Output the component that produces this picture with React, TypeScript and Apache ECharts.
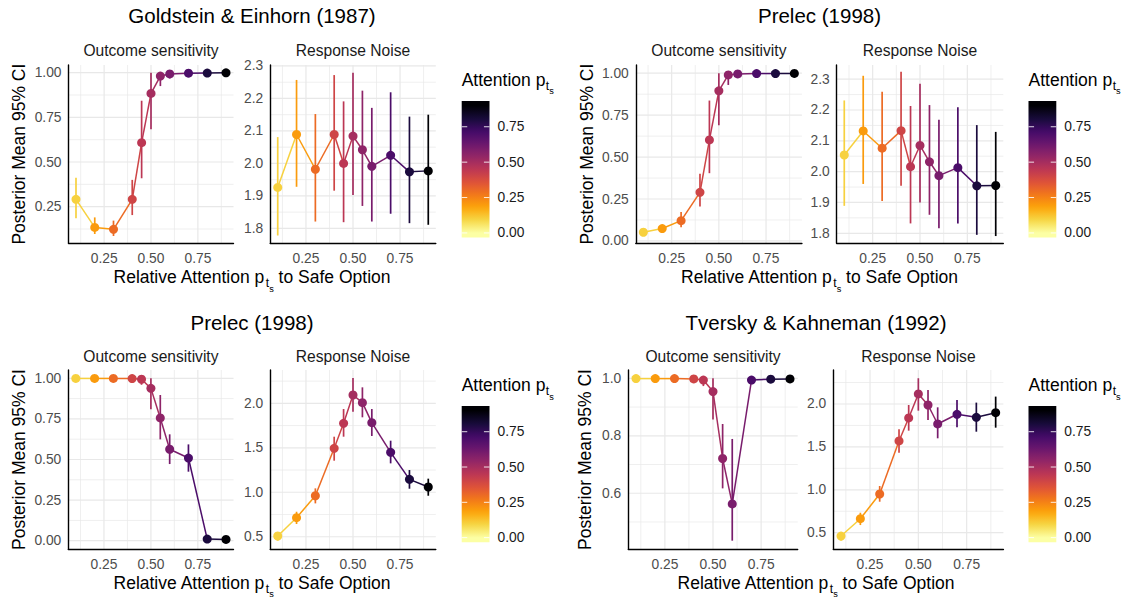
import React, { useEffect, useRef } from "react";
import * as echarts from "echarts";

// ---------- data ----------
const attention = [0.1, 0.2, 0.3, 0.4, 0.45, 0.5, 0.55, 0.6, 0.7, 0.8, 0.9];

// Goldstein & Einhorn (1987)
const geOutcomeMean = [0.291, 0.134, 0.123, 0.291, 0.608, 0.884, 0.981, 0.993, 0.997, 0.998, 0.999];
const geOutcomeLo = [0.185, 0.097, 0.086, 0.203, 0.409, 0.683, 0.925, 0.968, 0.99, 0.993, 0.996];
const geOutcomeHi = [0.412, 0.19, 0.172, 0.4, 0.843, 1.0, 1.0, 1.0, 1.0, 1.0, 1.0];
const geNoiseMean = [1.926, 2.089, 1.982, 2.089, 2.0, 2.084, 2.042, 1.991, 2.025, 1.974, 1.977];
const geNoiseLo = [1.778, 1.928, 1.821, 1.916, 1.819, 1.903, 1.869, 1.821, 1.845, 1.816, 1.811];
const geNoiseHi = [2.081, 2.257, 2.152, 2.272, 2.191, 2.279, 2.224, 2.171, 2.219, 2.144, 2.15];

// Prelec (1998) - top
const prOutcomeMean = [0.052, 0.074, 0.121, 0.29, 0.602, 0.895, 0.99, 0.996, 0.998, 0.998, 0.999];
const prOutcomeLo = [0.038, 0.056, 0.082, 0.205, 0.404, 0.69, 0.93, 0.975, 0.99, 0.99, 0.995];
const prOutcomeHi = [0.066, 0.095, 0.173, 0.4, 0.837, 1.0, 1.0, 1.0, 1.0, 1.0, 1.0];
const prNoiseMean = [2.054, 2.132, 2.076, 2.133, 2.016, 2.085, 2.032, 1.987, 2.013, 1.954, 1.955];
const prNoiseLo = [1.889, 1.96, 1.905, 1.954, 1.832, 1.9, 1.86, 1.816, 1.832, 1.795, 1.791];
const prNoiseHi = [2.231, 2.311, 2.259, 2.324, 2.213, 2.285, 2.216, 2.168, 2.209, 2.151, 2.129];

// Prelec (1998) - bottom
const pr2OutcomeMean = [0.999, 0.999, 0.999, 0.998, 0.994, 0.938, 0.756, 0.563, 0.509, 0.01, 0.008];
const pr2OutcomeLo = [0.99, 0.99, 0.99, 0.985, 0.96, 0.809, 0.624, 0.472, 0.425, 0.002, 0.001];
const pr2OutcomeHi = [1.0, 1.0, 1.0, 1.0, 1.0, 1.0, 0.897, 0.655, 0.593, 0.025, 0.018];
const pr2NoiseMean = [0.508, 0.714, 0.961, 1.494, 1.775, 2.094, 2.008, 1.783, 1.449, 1.145, 1.059];
const pr2NoiseLo = [0.455, 0.643, 0.875, 1.355, 1.625, 1.906, 1.843, 1.633, 1.325, 1.04, 0.961];
const pr2NoiseHi = [0.545, 0.781, 1.044, 1.625, 1.936, 2.285, 2.18, 1.936, 1.58, 1.25, 1.153];

// Tversky & Kahneman (1992)
const tkOutcomeMean = [0.999, 0.999, 0.999, 0.998, 0.994, 0.954, 0.721, 0.563, 0.994, 0.997, 0.998];
const tkOutcomeLo = [0.99, 0.99, 0.99, 0.985, 0.973, 0.857, 0.617, 0.435, 0.98, 0.99, 0.99];
const tkOutcomeHi = [1.0, 1.0, 1.0, 1.0, 1.0, 1.0, 0.841, 0.789, 1.0, 1.0, 1.0];
const tkNoiseMean = [0.461, 0.663, 0.951, 1.569, 1.837, 2.117, 1.988, 1.767, 1.88, 1.845, 1.899];
const tkNoiseLo = [0.405, 0.589, 0.861, 1.433, 1.689, 1.922, 1.813, 1.6, 1.728, 1.677, 1.724];
const tkNoiseHi = [0.5, 0.733, 1.044, 1.705, 1.988, 2.3, 2.163, 1.961, 2.047, 2.016, 2.086];

// ticks
const xMajor = [0.25, 0.5, 0.75];
const xMinor = [0.125, 0.375, 0.625, 0.875];
const probMajor = [0, 0.25, 0.5, 0.75, 1];
const probMinor = [0.125, 0.375, 0.625, 0.875];
const noiseTopMajor = [1.8, 1.9, 2.0, 2.1, 2.2, 2.3];
const noiseTopMinor = [1.75, 1.85, 1.95, 2.05, 2.15, 2.25];
const noiseBottomMajor = [0.5, 1.0, 1.5, 2.0];
const noiseBottomMinor = [0.75, 1.25, 1.75, 2.25];
const tkOutcomeMajor = [0.6, 0.8, 1.0];
const tkOutcomeMinor = [0.5, 0.7, 0.9];
const legendBreaks = [0, 0.25, 0.5, 0.75];

const panelTitles = ["Goldstein & Einhorn (1987)", "Prelec (1998)", "Prelec (1998)", "Tversky & Kahneman (1992)"];
const facetTitles = ["Outcome sensitivity", "Response Noise"];

// ---------- style / layout ----------
const FONT = "'Liberation Sans', Arial, Helvetica, sans-serif";
const INFERNO = ["#000004", "#160B39", "#420A68", "#6A176E", "#932667", "#BC3754", "#DD513A", "#F37819", "#FCA50A", "#F6D746", "#FCFFA4"];
const COLOR_TOP = 0.9;
const CB_MIN = -0.033;
const CB_MAX = 0.932;
const X_MIN = 0.06;
const X_MAX = 0.94;

const panelData = [
  [
    { mean: geOutcomeMean, lo: geOutcomeLo, hi: geOutcomeHi },
    { mean: geNoiseMean, lo: geNoiseLo, hi: geNoiseHi },
  ],
  [
    { mean: prOutcomeMean, lo: prOutcomeLo, hi: prOutcomeHi },
    { mean: prNoiseMean, lo: prNoiseLo, hi: prNoiseHi },
  ],
  [
    { mean: pr2OutcomeMean, lo: pr2OutcomeLo, hi: pr2OutcomeHi },
    { mean: pr2NoiseMean, lo: pr2NoiseLo, hi: pr2NoiseHi },
  ],
  [
    { mean: tkOutcomeMean, lo: tkOutcomeLo, hi: tkOutcomeHi },
    { mean: tkNoiseMean, lo: tkNoiseLo, hi: tkNoiseHi },
  ],
];

const layouts = [
  {
    cx: 252, titleY: 15.5, stripY: 50, xTitleBase: 283.3, yTitleX: 19, legendX: 461.7, legendBase: 86, barTop: 101, barH: 136.6,
    facets: [
      { left: 68.5, top: 65, width: 165, height: 178.3, ymin: 0.045, ymax: 1.043, major: probMajor, minor: probMinor, digits: 2 },
      { left: 270.2, top: 65, width: 165.6, height: 178.3, ymin: 1.754, ymax: 2.303, major: noiseTopMajor, minor: noiseTopMinor, digits: 1 },
    ],
  },
  {
    cx: 819.5, titleY: 15.5, stripY: 50, xTitleBase: 283.3, yTitleX: 586.5, legendX: 1028.5, legendBase: 86, barTop: 101, barH: 136.6,
    facets: [
      { left: 635.8, top: 65, width: 166.1, height: 178.3, ymin: -0.014, ymax: 1.049, major: probMajor, minor: probMinor, digits: 2 },
      { left: 836.7, top: 65, width: 166.6, height: 178.3, ymin: 1.7675, ymax: 2.346, major: noiseTopMajor, minor: noiseTopMinor, digits: 1 },
    ],
  },
  {
    cx: 252, titleY: 322, stripY: 356, xTitleBase: 588.6, yTitleX: 19, legendX: 461.7, legendBase: 391.2, barTop: 406, barH: 136.3,
    facets: [
      { left: 68.3, top: 370, width: 165.2, height: 179, ymin: -0.051, ymax: 1.051, major: probMajor, minor: probMinor, digits: 2 },
      { left: 270.2, top: 370, width: 165.6, height: 179, ymin: 0.362, ymax: 2.375, major: noiseBottomMajor, minor: noiseBottomMinor, digits: 1 },
    ],
  },
  {
    cx: 816, titleY: 322, stripY: 356, xTitleBase: 588.6, yTitleX: 585, legendX: 1028.5, legendBase: 391.2, barTop: 406, barH: 136.3,
    facets: [
      { left: 628.3, top: 370, width: 169.4, height: 179, ymin: 0.406, ymax: 1.029, major: tkOutcomeMajor, minor: tkOutcomeMinor, digits: 1 },
      { left: 833.3, top: 370, width: 170.1, height: 179, ymin: 0.31, ymax: 2.396, major: noiseBottomMajor, minor: noiseBottomMinor, digits: 1 },
    ],
  },
];

function hexToRgb(h: string) {
  const n = parseInt(h.slice(1), 16);
  return [(n >> 16) & 255, (n >> 8) & 255, n & 255];
}
function inferno(t: number) {
  const c = Math.max(0, Math.min(1, t)) * (INFERNO.length - 1);
  const i = Math.min(INFERNO.length - 2, Math.floor(c));
  const f = c - i;
  const a = hexToRgb(INFERNO[i]);
  const b = hexToRgb(INFERNO[i + 1]);
  const r = a.map((v, k) => Math.round(v + (b[k] - v) * f));
  return `rgb(${r[0]},${r[1]},${r[2]})`;
}
function attnColor(v: number) {
  return inferno(1 - v / COLOR_TOP);
}

function txt(x: number, y: number, text: string, size: number, fill: string, align = "center", rotation = 0) {
  return {
    type: "text",
    x,
    y,
    rotation,
    silent: true,
    z: 10,
    style: {
      text,
      fontSize: size,
      fontFamily: FONT,
      fill,
      textAlign: align,
      align,
      textVerticalAlign: "middle",
      verticalAlign: "middle",
    },
  };
}

export default function App() {
  const ref = useRef<HTMLDivElement>(null);

  useEffect(() => {
    if (!ref.current) return;
    const chart = echarts.init(ref.current, null, { renderer: "svg" });

    const canvas = document.createElement("canvas");
    const ctx = canvas.getContext("2d") as CanvasRenderingContext2D;
    const measure = (s: string, size: number) => {
      ctx.font = `${size}px 'Liberation Sans', Arial, sans-serif`;
      return ctx.measureText(s).width;
    };

    const subLabel = (x: number, baseline: number, main1: string, main2: string, align: string) => {
      const S = 17.5, T = 12.2, U = 9.2;
      const w1 = measure(main1, S);
      const wt = measure("t", T);
      const ws = measure("s", U);
      const w2 = main2 ? measure(main2, S) : 0;
      const total = w1 + 0.5 + wt + ws + w2;
      const x0 = align === "center" ? x - total / 2 : x;
      const els: any[] = [
        txt(x0, baseline - 0.3465 * S, main1, S, "#000", "left"),
        txt(x0 + w1 + 0.5, baseline + 4.2 - 0.3465 * T, "t", T, "#000", "left"),
        txt(x0 + w1 + 0.5 + wt, baseline + 8.5 - 0.3465 * U, "s", U, "#000", "left"),
      ];
      if (main2) els.push(txt(x0 + w1 + 0.5 + wt + ws, baseline - 0.3465 * S, main2, S, "#000", "left"));
      return els;
    };

    const grids: any[] = [];
    const xAxes: any[] = [];
    const yAxes: any[] = [];
    const series: any[] = [];
    const graphics: any[] = [];

    layouts.forEach((p, pi) => {
      graphics.push(txt(p.cx, p.titleY, panelTitles[pi], 20.5, "#000"));
      graphics.push(...subLabel(p.cx, p.xTitleBase, "Relative Attention p", " to Safe Option", "center"));
      const f0 = p.facets[0];
      graphics.push(txt(p.yTitleX, f0.top + f0.height / 2, "Posterior Mean 95% CI", 17.5, "#000", "center", Math.PI / 2));
      graphics.push(...subLabel(p.legendX, p.legendBase, "Attention p", "", "left"));

      p.facets.forEach((f, fi) => {
        const d = panelData[pi][fi];
        const gi = grids.length;
        graphics.push(txt(f.left + f.width / 2, p.stripY, facetTitles[fi], 15.6, "#1A1A1A"));
        grids.push({ left: f.left, top: f.top, width: f.width, height: f.height, containLabel: false, outerBoundsMode: "none" });
        xAxes.push({
          type: "value",
          gridIndex: gi,
          min: X_MIN,
          max: X_MAX,
          z: 4,
          axisLine: { show: true, onZero: false, lineStyle: { color: "#000", width: 1.4 } },
          axisTick: { show: false },
          splitLine: { show: false },
          axisLabel: {
            customValues: xMajor,
            formatter: (v: number) => v.toFixed(2),
            color: "#4D4D4D",
            fontSize: 13.8,
            fontFamily: FONT,
            margin: 8,
          },
        });
        yAxes.push({
          type: "value",
          gridIndex: gi,
          min: f.ymin,
          max: f.ymax,
          z: 4,
          axisLine: { show: true, onZero: false, lineStyle: { color: "#000", width: 1.4 } },
          axisTick: { show: false },
          splitLine: { show: false },
          axisLabel: {
            customValues: f.major.filter((v) => v >= f.ymin && v <= f.ymax),
            formatter: (v: number) => v.toFixed(f.digits),
            color: "#4D4D4D",
            fontSize: 13.8,
            fontFamily: FONT,
            margin: 7,
          },
        });
        // grid lines
        series.push({
          type: "custom",
          xAxisIndex: gi,
          yAxisIndex: gi,
          z: 1,
          silent: true,
          data: [[0.5, (f.ymin + f.ymax) / 2]],
          renderItem: (_params: any, api: any) => {
            const children: any[] = [];
            const add = (vals: number[], isX: boolean, major: boolean) => {
              vals.forEach((v) => {
                let a, b;
                if (isX) {
                  if (v < X_MIN || v > X_MAX) return;
                  a = api.coord([v, f.ymin]);
                  b = api.coord([v, f.ymax]);
                } else {
                  if (v < f.ymin || v > f.ymax) return;
                  a = api.coord([X_MIN, v]);
                  b = api.coord([X_MAX, v]);
                }
                children.push({
                  type: "line",
                  shape: { x1: a[0], y1: a[1], x2: b[0], y2: b[1] },
                  style: { stroke: "#E8E8E8", lineWidth: major ? 1.2 : 0.7 },
                });
              });
            };
            add(xMinor, true, false);
            add(f.minor, false, false);
            add(xMajor, true, true);
            add(f.major, false, true);
            return { type: "group", children };
          },
        });
        // data
        series.push({
          type: "custom",
          xAxisIndex: gi,
          yAxisIndex: gi,
          z: 3,
          silent: true,
          data: attention.map((x, i) => [x, d.mean[i], d.lo[i], d.hi[i]]),
          renderItem: (params: any, api: any) => {
            const i = params.dataIndex;
            const x = api.value(0);
            const color = attnColor(x);
            const pt = api.coord([x, api.value(1)]);
            const pl = api.coord([x, api.value(2)]);
            const ph = api.coord([x, api.value(3)]);
            const children: any[] = [];
            if (i < attention.length - 1) {
              const q = api.coord([attention[i + 1], d.mean[i + 1]]);
              children.push({
                type: "line",
                shape: { x1: pt[0], y1: pt[1], x2: q[0], y2: q[1] },
                style: { stroke: color, lineWidth: 1.5 },
              });
            }
            children.push({
              type: "line",
              shape: { x1: pl[0], y1: pl[1], x2: ph[0], y2: ph[1] },
              style: { stroke: color, lineWidth: 1.7 },
            });
            children.push({ type: "circle", shape: { cx: pt[0], cy: pt[1], r: 4.5 }, style: { fill: color } });
            return { type: "group", children };
          },
        });
      });

      // colour bar
      const gi = grids.length;
      grids.push({ left: p.legendX, top: p.barTop, width: 27.8, height: p.barH, containLabel: false, outerBoundsMode: "none" });
      xAxes.push({ type: "value", gridIndex: gi, min: 0, max: 1, show: false });
      yAxes.push({
        type: "value",
        gridIndex: gi,
        min: CB_MIN,
        max: CB_MAX,
        position: "right",
        axisLine: { show: false },
        axisTick: { show: false },
        splitLine: { show: false },
        axisLabel: {
          customValues: legendBreaks,
          formatter: (v: number) => v.toFixed(2),
          color: "#1A1A1A",
          fontSize: 13.8,
          fontFamily: FONT,
          margin: 8,
        },
      });
      series.push({
        type: "custom",
        xAxisIndex: gi,
        yAxisIndex: gi,
        z: 2,
        silent: true,
        data: [[0.5, 0.45]],
        renderItem: (_params: any, api: any) => {
          const tl = api.coord([0, CB_MAX]);
          const br = api.coord([1, CB_MIN]);
          const stops: any[] = [];
          for (let k = 0; k <= 30; k++) {
            const off = k / 30;
            stops.push({ offset: off, color: attnColor(CB_MAX - off * (CB_MAX - CB_MIN)) });
          }
          const children: any[] = [
            {
              type: "rect",
              shape: { x: tl[0], y: tl[1], width: br[0] - tl[0], height: br[1] - tl[1] },
              style: { fill: new echarts.graphic.LinearGradient(0, 0, 0, 1, stops) },
            },
          ];
          const tickLen = (br[0] - tl[0]) / 5;
          legendBreaks.forEach((b) => {
            const l = api.coord([0, b]);
            const r = api.coord([1, b]);
            children.push({
              type: "line",
              shape: { x1: l[0], y1: l[1], x2: l[0] + tickLen, y2: l[1] },
              style: { stroke: "rgba(255,255,255,0.85)", lineWidth: 1 },
            });
            children.push({
              type: "line",
              shape: { x1: r[0] - tickLen, y1: r[1], x2: r[0], y2: r[1] },
              style: { stroke: "rgba(255,255,255,0.85)", lineWidth: 1 },
            });
          });
          return { type: "group", children };
        },
      });
    });

    chart.setOption({
      animation: false,
      backgroundColor: "#ffffff",
      textStyle: { fontFamily: FONT },
      grid: grids,
      xAxis: xAxes,
      yAxis: yAxes,
      series,
      graphic: graphics,
    });

    return () => {
      chart.dispose();
    };
  }, []);

  return <div ref={ref} style={{ position: "absolute", left: 0, top: 0, width: 1125, height: 599 }} />;
}
